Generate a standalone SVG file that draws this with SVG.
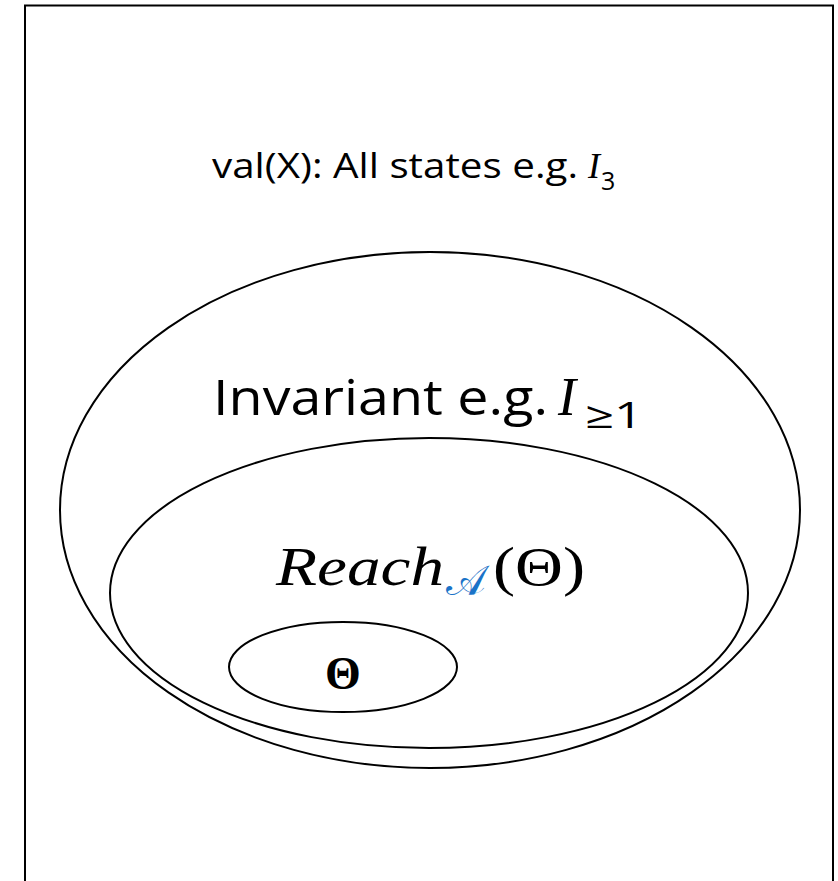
<svg xmlns="http://www.w3.org/2000/svg" width="838" height="881" viewBox="0 0 838 881">
<style>
.sh{fill:none;stroke:#000;stroke-width:2}
.sans{font-family:"Open Sans","Liberation Sans",sans-serif;fill:#000}
.math{font-family:"Liberation Serif","DejaVu Serif",serif;font-style:italic;fill:#000}
</style>
<rect width="838" height="881" fill="#fff"/>
<g id="allstates">
<rect class="sh" x="25" y="5.5" width="808" height="900"/>
<text class="sans" x="212" y="178" font-size="35" textLength="366" lengthAdjust="spacingAndGlyphs">val(X): All states e.g.</text>
<text class="math" x="588" y="178" font-size="36">I</text>
<text class="sans" x="601" y="190" font-size="25">3</text>
</g>
<g id="invariant">
<ellipse class="sh" cx="430" cy="510" rx="370" ry="258"/>
<text class="sans" x="213" y="415" font-size="50" textLength="335" lengthAdjust="spacingAndGlyphs">Invariant e.g.</text>
<text class="math" x="558" y="415" font-size="54">I</text>
<text class="sans" x="585" y="428" font-size="36" textLength="58" lengthAdjust="spacingAndGlyphs">≥1</text>
</g>
<g id="reach">
<ellipse class="sh" cx="429" cy="593" rx="319" ry="155"/>
<text class="math" x="276" y="585" font-size="54" textLength="168" lengthAdjust="spacingAndGlyphs">Reach</text>
<text x="446" y="595" font-size="42" font-family="DejaVu Serif,serif" fill="#1a73c8">𝒜</text>
<text x="493" y="585" font-size="54" font-family="Liberation Serif,serif" fill="#000" textLength="92" lengthAdjust="spacingAndGlyphs">(Θ)</text>
</g>
<g id="theta">
<ellipse class="sh" cx="343" cy="667" rx="114" ry="45"/>
<text x="343" y="689" font-size="46" font-weight="bold" text-anchor="middle" font-family="Liberation Serif,serif" fill="#000">Θ</text>
</g>
<g id="connectors"/>
</svg>
